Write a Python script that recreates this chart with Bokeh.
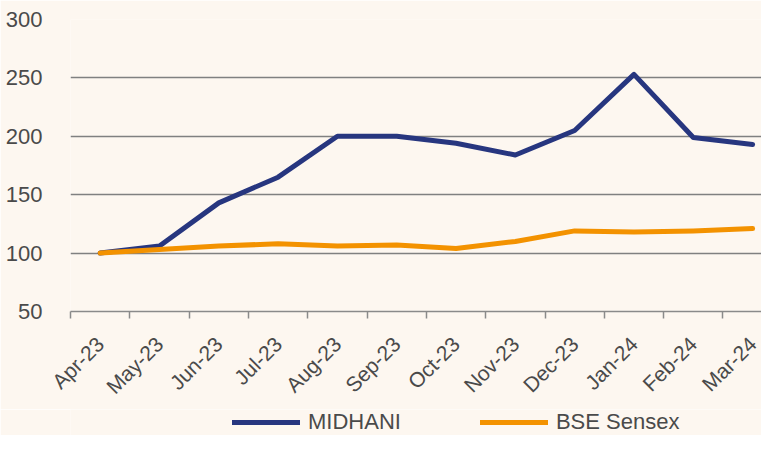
import math
from bokeh.plotting import figure
from bokeh.layouts import column
from bokeh.models import Range1d, FixedTicker, Legend, LegendItem, ColumnDataSource
from bokeh.embed import file_html
from bokeh.resources import INLINE

months = ["Apr-23", "May-23", "Jun-23", "Jul-23", "Aug-23", "Sep-23",
          "Oct-23", "Nov-23", "Dec-23", "Jan-24", "Feb-24", "Mar-24"]
midhani = [100, 106, 143, 165, 200, 200, 194, 184, 205, 253, 199, 193]
sensex = [100, 103, 106, 108, 106, 107, 104, 110, 119, 118, 119, 121]
y_ticks = [50, 100, 150, 200, 250, 300]
series_names = ["MIDHANI", "BSE Sensex"]

BG = "#fdf7f0"
NAVY = "#27367f"
ORANGE = "#f39200"
TXT = "#4a4a4a"
FONT = "Liberation Sans"

xpos = [i + 0.5 for i in range(len(months))]
src = ColumnDataSource(dict(x=xpos, m=midhani, s=sensex))

p = figure(frame_width=691, frame_height=292, output_backend="svg", toolbar_location=None,
           x_range=Range1d(0, 11.65), y_range=Range1d(50, 300),
           background_fill_color=BG, border_fill_color=BG,
           min_border_left=70, min_border_right=0, min_border_top=19, min_border_bottom=96)
p.outline_line_color = None

r1 = p.line("x", "m", source=src, line_color=NAVY, line_width=5, line_cap="round", line_join="round")
r2 = p.line("x", "s", source=src, line_color=ORANGE, line_width=5, line_cap="round", line_join="round")

# x axis
xa = p.xaxis[0]
xa.ticker = FixedTicker(ticks=xpos, minor_ticks=list(range(0, 13)))
xa.major_label_overrides = {x: m for x, m in zip(xpos, months)}
xa.major_tick_line_color = None
xa.minor_tick_in = 0
xa.minor_tick_out = 7
xa.minor_tick_line_color = "#8a8a8a"
xa.minor_tick_line_width = 1.5
xa.axis_line_color = "#8a8a8a"
xa.axis_line_width = 1.5
xa.major_label_orientation = math.pi / 4
xa.major_label_standoff = 22
xa.major_label_text_font = FONT
xa.major_label_text_font_size = "21px"
xa.major_label_text_color = TXT

# y axis
ya = p.yaxis[0]
ya.ticker = FixedTicker(ticks=y_ticks)
ya.axis_line_color = None
ya.major_tick_line_color = None
ya.minor_tick_line_color = None
ya.major_label_standoff = 22
ya.major_label_text_font = FONT
ya.major_label_text_font_size = "22px"
ya.major_label_text_color = TXT

p.xgrid.grid_line_color = None
p.ygrid.grid_line_color = "#808080"
p.ygrid.grid_line_width = 1.3

# legend strip below the chart (same series, drawn outside its visible range)
pl = figure(width=761, height=26, output_backend="svg", toolbar_location=None,
            x_range=Range1d(0, 1), y_range=Range1d(0, 1),
            x_axis_location=None, y_axis_location=None,
            background_fill_color=BG, border_fill_color=BG, min_border=0)
pl.outline_line_color = None
pl.grid.visible = False
lr1 = pl.line("x", "m", source=src, line_color=NAVY, line_width=5, line_cap="round")
lr2 = pl.line("x", "s", source=src, line_color=ORANGE, line_width=5, line_cap="round")

legend = Legend(items=[LegendItem(label=series_names[0], renderers=[lr1]),
                       LegendItem(label=series_names[1], renderers=[lr2])],
                orientation="horizontal", location=(162, 0),
                glyph_width=68, glyph_height=20, label_standoff=8, spacing=79,
                padding=0, margin=0,
                background_fill_alpha=0, border_line_color=None,
                label_text_font=FONT, label_text_font_size="22px", label_text_color=TXT)
pl.add_layout(legend, "center")

layout = column(p, pl, spacing=0)
open("out.html", "w").write(file_html(layout, INLINE))
